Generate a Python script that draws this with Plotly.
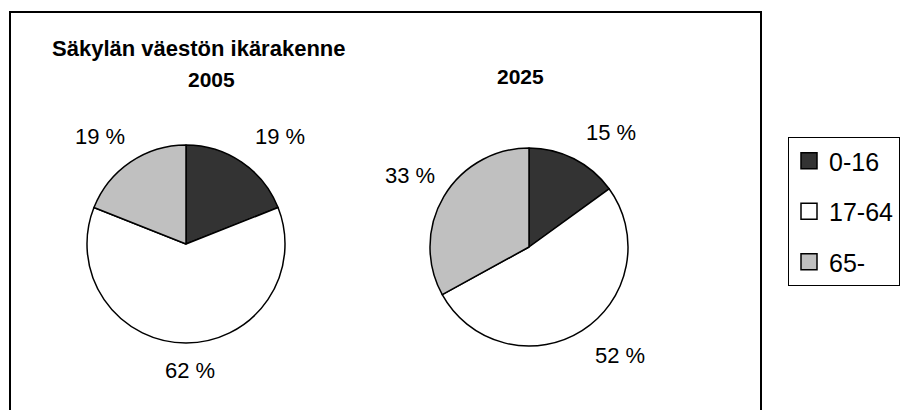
import math
import plotly.graph_objects as go

# ---- data ----
categories = ["0-16", "17-64", "65-"]
years = ["2005", "2025"]
values_2005 = [19, 62, 19]
values_2025 = [15, 52, 33]
title_text = "Säkylän väestön ikärakenne"

colors = ["#333333", "#ffffff", "#c0c0c0"]
FONT = "Liberation Sans, Arial, sans-serif"
W, H = 900, 410

def px(x):
    return x / W

def py(y):
    return 1 - y / H

fig = go.Figure()

# pie geometry (pixels): center x, center y, radius
pies = [
    (values_2005, 186, 244, 99),
    (values_2025, 529, 247, 99),
]

annotations = []
for vals, cx, cy, r in pies:
    fig.add_trace(go.Pie(
        labels=categories, values=vals, sort=False, direction="clockwise",
        rotation=0, textinfo="none", hoverinfo="label+percent",
        marker=dict(colors=colors, line=dict(color="black", width=1.5)),
        domain=dict(x=[px(cx - r), px(cx + r)], y=[py(cy + r), py(cy - r)]),
        showlegend=False,
    ))
    total = sum(vals)
    cum = 0
    for v in vals:
        mid = (cum + v / 2) / total * 2 * math.pi
        cum += v
        s, c = math.sin(mid), math.cos(mid)
        d = r * 1.13
        x = cx + d * s + 4
        y = cy - d * c
        xa = "left" if s > 0.15 else ("right" if s < -0.15 else "center")
        ya = "bottom" if c > 0.15 else ("top" if c < -0.15 else "middle")
        annotations.append(dict(
            x=px(x), y=py(y), xref="paper", yref="paper",
            text=f"{round(v / total * 100)} %", showarrow=False,
            xanchor=xa, yanchor=ya,
            font=dict(family=FONT, size=22, color="black"),
        ))

# legend entries
for cat, col in zip(categories, colors):
    fig.add_trace(go.Scatter(
        x=[None], y=[None], mode="markers", name=cat, legendgroup=cat,
        marker=dict(symbol="square", size=16, color=col,
                    line=dict(color="black", width=1.5)),
    ))

annotations += [
    dict(x=px(50), y=py(48), xref="paper", yref="paper", text=f"<b>{title_text}</b>",
         showarrow=False, xanchor="left", yanchor="middle",
         font=dict(family=FONT, size=22, color="black")),
    dict(x=px(211), y=py(80), xref="paper", yref="paper", text=f"<b>{years[0]}</b>",
         showarrow=False, xanchor="center", yanchor="middle",
         font=dict(family=FONT, size=21, color="black")),
    dict(x=px(520), y=py(77), xref="paper", yref="paper", text=f"<b>{years[1]}</b>",
         showarrow=False, xanchor="center", yanchor="middle",
         font=dict(family=FONT, size=21, color="black")),
]

fig.update_layout(
    width=W, height=H, margin=dict(l=0, r=0, t=0, b=0),
    paper_bgcolor="white", plot_bgcolor="white",
    xaxis=dict(visible=False), yaxis=dict(visible=False),
    annotations=annotations,
    shapes=[dict(type="rect", xref="paper", yref="paper",
                 x0=px(10), x1=px(761), y0=-0.05, y1=py(12),
                 line=dict(color="black", width=2), fillcolor="rgba(0,0,0,0)")],
    showlegend=True,
    legend=dict(x=px(788), y=py(137), xanchor="left", yanchor="top",
                bordercolor="black", borderwidth=1, bgcolor="white",
                font=dict(family=FONT, size=25, color="black"),
                tracegroupgap=15, itemsizing="trace"),
)

fig.write_html("out.html", config={"displayModeBar": False},
               post_script="document.body.style.margin='0';document.body.style.padding='0';")
